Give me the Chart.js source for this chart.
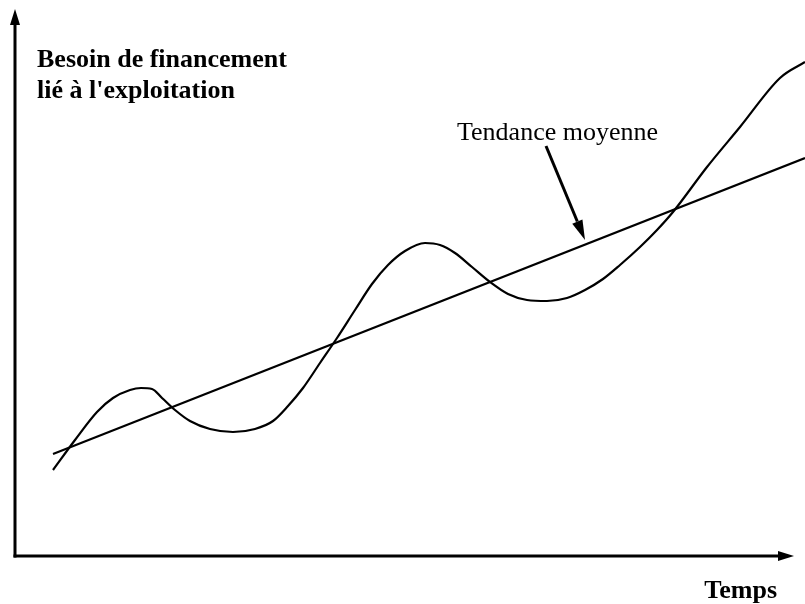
<!DOCTYPE html>
<html lang="fr">
<head>
<meta charset="utf-8">
<script src="https://cdn.jsdelivr.net/npm/chart.js@4.4.1/dist/chart.umd.min.js"></script>
<style>
  html, body { margin: 0; padding: 0; background: #fff; }
  #wrap { width: 805px; height: 604px; }
</style>
</head>
<body>
<div id="wrap"><canvas id="chart"></canvas></div>
<script>
const besoinTemps  = [38, 60, 82, 98, 115, 126, 137, 147, 160, 175, 195, 218, 240, 258, 273, 288, 305, 322, 340, 357, 373, 390, 410, 425, 440, 457, 475, 493, 512, 532, 552, 570, 588, 605, 625, 642, 658, 692, 725, 765, 790];
const besoinValeur = [86, 116, 144, 158, 166, 168, 167, 158, 146, 135, 127, 124, 127, 135, 150, 168, 193, 218, 246, 272, 291, 305, 313, 311, 303, 289, 274, 262, 256, 255, 258, 266, 277, 291, 309, 326, 344, 389, 429, 478, 494];
const tendanceTemps  = [38, 790];
const tendanceValeur = [102, 398];

const titreAxeY = ['Besoin de financement', "lié à l'exploitation"];
const titreAxeX = 'Temps';
const labelTendance = 'Tendance moyenne';

const toPoints = (xs, ys) => xs.map((x, i) => ({ x: x, y: ys[i] }));

// fleche pleine
function fleche(ctx, x0, y0, x1, y1, longueur, largeur) {
  const ang = Math.atan2(y1 - y0, x1 - x0);
  const bx = x1 - longueur * Math.cos(ang), by = y1 - longueur * Math.sin(ang);
  ctx.beginPath();
  ctx.moveTo(x0, y0);
  ctx.lineTo(bx, by);
  ctx.stroke();
  ctx.beginPath();
  ctx.moveTo(x1, y1);
  ctx.lineTo(bx + largeur / 2 * Math.sin(ang), by - largeur / 2 * Math.cos(ang));
  ctx.lineTo(bx - largeur / 2 * Math.sin(ang), by + largeur / 2 * Math.cos(ang));
  ctx.closePath();
  ctx.fill();
}

const axesEtTextes = {
  id: 'axesEtTextes',
  afterDraw(chart) {
    const ctx = chart.ctx;
    const sx = chart.scales.x, sy = chart.scales.y;
    const ox = sx.getPixelForValue(0), oy = sy.getPixelForValue(0);
    ctx.save();
    ctx.strokeStyle = '#000';
    ctx.fillStyle = '#000';
    ctx.lineCap = 'butt';

    // axes
    ctx.lineWidth = 3;
    fleche(ctx, ox, oy + 1.5, ox, 9, 16, 10);
    fleche(ctx, ox - 1.5, oy, 794, oy, 16, 10);

    // titres
    ctx.font = 'bold 26px "Liberation Serif", "Times New Roman", serif';
    ctx.textBaseline = 'alphabetic';
    ctx.textAlign = 'left';
    ctx.fillText(titreAxeY[0], 37, 67);
    ctx.fillText(titreAxeY[1], 37, 98);
    ctx.textAlign = 'right';
    ctx.fillText(titreAxeX, 777, 598);

    // libelle de la tendance + fleche
    ctx.font = '26px "Liberation Serif", "Times New Roman", serif';
    ctx.textAlign = 'left';
    ctx.fillText(labelTendance, 457, 140);
    ctx.lineWidth = 3;
    fleche(ctx, 546, 146, 585, 240, 20, 11);
    ctx.restore();
  }
};

new Chart(document.getElementById('chart'), {
  type: 'scatter',
  data: {
    datasets: [
      {
        label: 'Besoin',
        data: toPoints(besoinTemps, besoinValeur),
        showLine: true,
        borderColor: '#000',
        borderWidth: 2.2,
        pointRadius: 0,
        cubicInterpolationMode: 'monotone',
        fill: false
      },
      {
        label: labelTendance,
        data: toPoints(tendanceTemps, tendanceValeur),
        showLine: true,
        borderColor: '#000',
        borderWidth: 2.2,
        pointRadius: 0,
        tension: 0,
        fill: false
      }
    ]
  },
  plugins: [axesEtTextes],
  options: {
    responsive: true,
    maintainAspectRatio: false,
    animation: false,
    layout: { padding: { left: 15, right: 0, top: 0, bottom: 48 } },
    plugins: { legend: { display: false }, tooltip: { enabled: false } },
    scales: {
      x: { type: 'linear', display: false, min: 0, max: 790 },
      y: { type: 'linear', display: false, min: 0, max: 556 }
    }
  }
});
</script>
</body>
</html>
